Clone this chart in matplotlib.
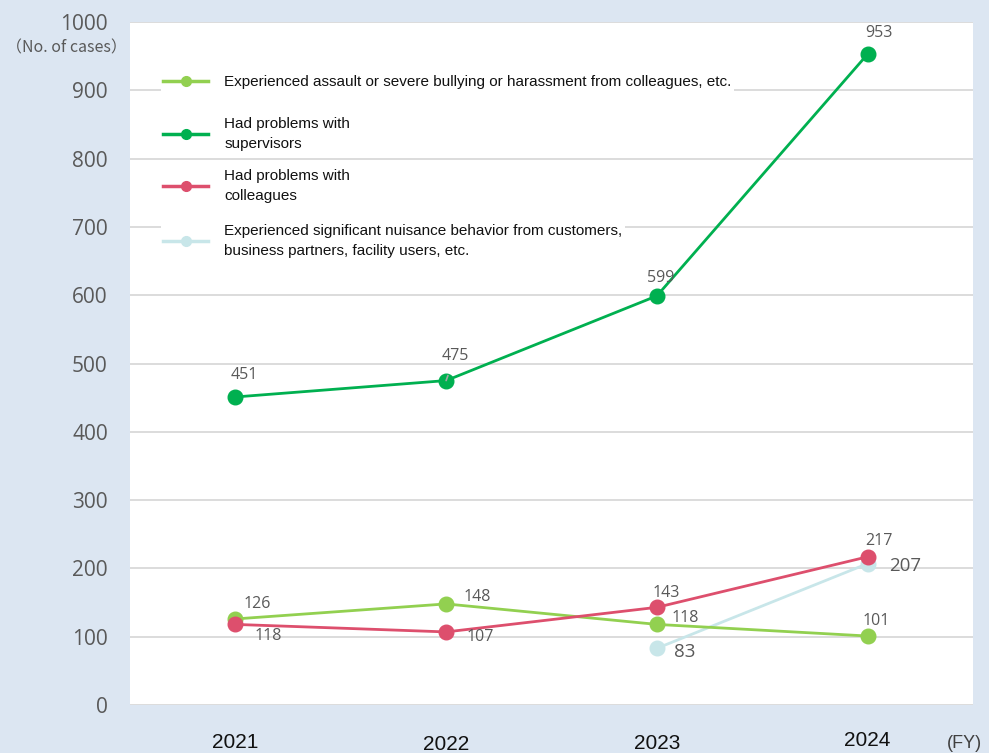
import matplotlib
matplotlib.use("Agg")
import matplotlib.pyplot as plt
from matplotlib.lines import Line2D

years = ["2021", "2022", "2023", "2024"]
assault = [126, 148, 118, 101]
supervisors = [451, 475, 599, 953]
colleagues = [118, 107, 143, 217]
nuisance = [None, None, 83, 207]

labels = [
    "Experienced assault or severe bullying or harassment from colleagues, etc.",
    "Had problems with\nsupervisors",
    "Had problems with\ncolleagues",
    "Experienced significant nuisance behavior from customers,\nbusiness partners, facility users, etc.",
]

C_LG = "#92d050"
C_DG = "#00b050"
C_RD = "#dd4f6d"
C_CY = "#c8e6e9"
BG = "#dce6f2"
GRAY = "#595959"
NUM_FONT = ["Open Sans", "DejaVu Sans"]
NARROW = ["Liberation Sans Narrow", "Liberation Sans", "DejaVu Sans"]

W, H = 989, 753
fig = plt.figure(figsize=(W / 100, H / 100), dpi=100, facecolor=BG)
ax = fig.add_axes([130 / W, 48 / H, 843 / W, 683 / H])
ax.set_facecolor("white")
x = list(range(len(years)))
ax.set_xlim(-0.5, 3.5)
ax.set_ylim(0, 1000)
for s in ax.spines.values():
    s.set_visible(False)
ax.set_yticks(range(0, 1001, 100))
ax.grid(axis="y", color="#d9d9d9", lw=1.3, zorder=0)
ax.set_axisbelow(True)
ax.tick_params(axis="y", length=0, pad=16, labelsize=15, labelcolor=GRAY)
for t in ax.get_yticklabels():
    t.set_family(NUM_FONT)
ax.set_xticks(x)
ax.set_xticklabels(years, family=NARROW, fontsize=15, color="#111111")
ax.tick_params(axis="x", length=0, pad=20.5)
xt_shift = [0, 1.5, 1, -2]
for t, d in zip(ax.get_xticklabels(), xt_shift):
    t.set_y(-d / 683)

# series
xs_cy = [xi for xi, v in zip(x, nuisance) if v is not None]
vs_cy = [v for v in nuisance if v is not None]
series = [
    (xs_cy, vs_cy, C_CY, 2),
    (x, assault, C_LG, 3),
    (x, colleagues, C_RD, 4),
    (x, supervisors, C_DG, 5),
]
for xs, vs, c, z in series:
    ax.plot(xs, vs, color=c, lw=2, marker="o", ms=10.5, zorder=z, clip_on=False)

def px(dx, dy):
    return (dx * 0.72, -dy * 0.72)

# label offsets in pixels (dx right, dy down)
off_dg = [(9, -22), (9, -25), (4, -18), (11, -21)]
off_lg = [(22, -15), (31, -7), (28, -6), (9, -15)]
off_rd = [(33, 12), (34, 5), (9, -14), (11, -16)]
off_cy = [(28, 4), (38, 2)]

def label(xs, vs, offs, size=11.5, leader_idx=None):
    for i, (xi, v, o) in enumerate(zip(xs, vs, offs)):
        kw = {}
        if leader_idx is not None and i == leader_idx:
            kw["arrowprops"] = dict(arrowstyle="-", color="#a6a6a6", lw=1.2,
                                    shrinkA=7, shrinkB=6)
        ax.annotate(str(v), (xi, v), xytext=px(*o), textcoords="offset points",
                    ha="center", va="center", fontsize=size, color=GRAY,
                    family=NUM_FONT, zorder=6, **kw)

label(x, supervisors, off_dg, leader_idx=1)
label(x, assault, off_lg)
label(x, colleagues, off_rd)
label(xs_cy, vs_cy, off_cy, size=13.5)

# legend entries (separate, positioned individually)
entry_y = [82, 134, 186, 241]
cols = [C_LG, C_DG, C_RD, C_CY]
for lab, c, yy in zip(labels, cols, entry_y):
    h = Line2D([], [], color=c, lw=2.5, marker="o", ms=7)
    leg = ax.legend([h], [lab], loc="center left",
                    bbox_to_anchor=(161 / W, 1 - yy / H),
                    bbox_transform=fig.transFigure, frameon=True,
                    prop={"family": NARROW, "size": 11}, handlelength=2.95,
                    handletextpad=1.05, borderpad=0.15, borderaxespad=0,
                    fancybox=False)
    leg.get_frame().set_facecolor("white")
    leg.get_frame().set_edgecolor("none")
    leg.get_frame().set_alpha(1)
    for t in leg.get_texts():
        t.set_color("#111111")
        t.set_linespacing(1.55)
    leg.set_zorder(7)
    ax.add_artist(leg)

fig.text(127 / W, 1 - 48 / H, "（No. of cases）", ha="right", va="center",
         fontsize=11.5, color=GRAY, family=["Noto Sans CJK JP", "DejaVu Sans"])
fig.text(947 / W, 1 - 744 / H, "(FY)", ha="left", va="center",
         fontsize=13, color="#404040", family=NARROW)

fig.savefig("out.png", dpi=100, facecolor=BG)
